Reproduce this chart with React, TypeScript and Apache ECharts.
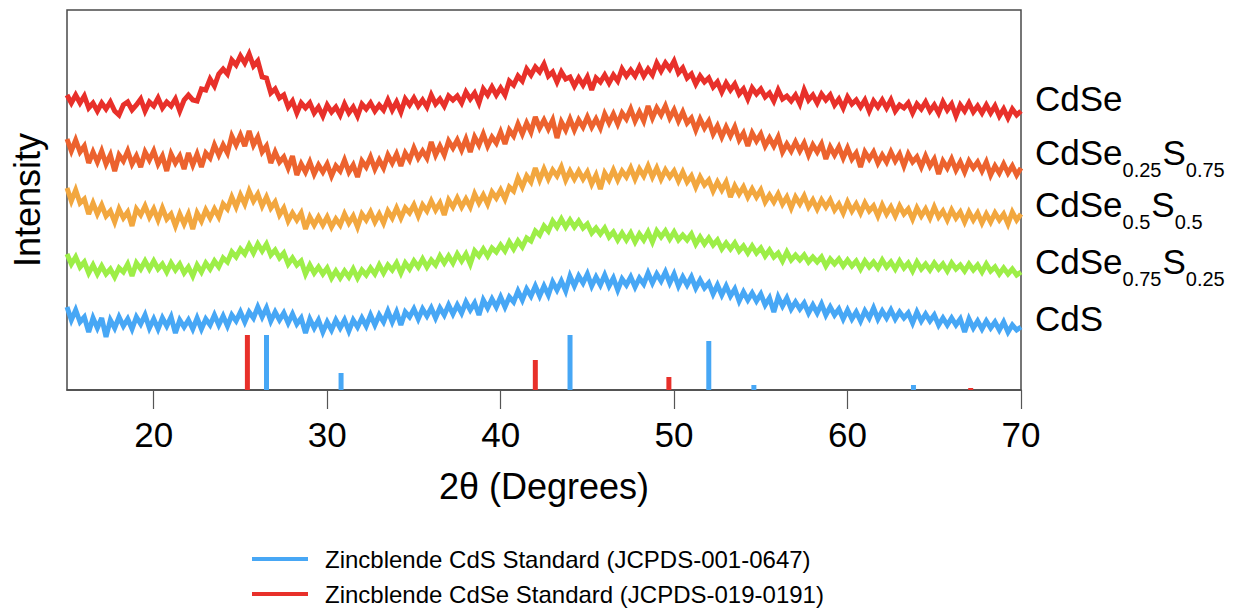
import React, { useEffect, useRef } from "react";
import * as echarts from "echarts";

// ---------- data ----------
const THETA_MIN = 15;
const THETA_MAX = 70;
const X_TICKS = [20, 30, 40, 50, 60, 70];

// XRD traces (offset intensity, arbitrary units), sampled every 0.25 deg from 15 to 70
const CDSE = [
  295,287,295,287,294,282,287,279,287,281,
  288,279,275,285,288,280,285,291,279,288,
  284,292,282,288,284,291,279,290,295,290,
  289,301,300,311,304,316,321,316,330,325,
  334,327,336,324,329,313,312,297,301,292,
  295,283,289,277,287,282,287,277,283,274,
  285,278,283,275,286,277,283,274,286,281,
  287,279,285,280,290,280,288,278,291,285,
  292,284,290,283,295,286,291,284,294,290,
  294,287,298,291,297,287,301,295,303,295,
  302,295,309,305,314,309,321,315,323,318,
  326,314,318,308,318,311,313,304,312,305,
  313,300,312,308,315,307,315,309,321,314,
  320,314,323,314,321,315,327,319,327,321,
  329,317,322,312,316,306,314,308,312,303,
  308,298,307,300,306,296,301,291,302,296,
  301,293,297,289,300,291,294,289,295,286,
  300,290,295,287,296,290,295,285,291,282,
  293,286,290,283,290,279,289,283,290,282,
  290,279,285,282,287,277,286,281,288,279,
  285,277,288,280,286,274,285,279,287,278,
  284,277,285,277,284,274,281,272,281,275,
  279,
];

const CDSE25_S75 = [
  251,239,250,238,244,227,238,228,239,226,
  235,219,235,229,239,226,234,223,238,230,
  239,226,234,219,236,227,234,221,237,225,
  236,223,237,232,245,235,245,237,254,245,
  255,244,259,245,253,238,244,227,238,228,
  233,222,234,215,226,218,228,216,225,218,
  226,214,224,219,230,218,225,213,229,223,
  233,221,230,222,235,227,236,224,237,230,
  242,232,239,232,248,235,244,235,249,242,
  250,240,251,238,253,245,256,244,253,247,
  258,246,260,254,266,256,267,258,273,262,
  270,261,270,252,268,260,271,260,270,263,
  273,263,271,262,276,267,276,266,277,271,
  281,269,278,269,284,272,282,275,284,272,
  280,269,278,267,272,260,271,262,269,256,
  264,253,263,254,263,250,257,244,257,249,
  256,244,252,244,253,238,246,239,248,239,
  247,235,245,238,246,231,243,235,243,232,
  242,231,237,223,238,231,238,227,235,228,
  238,229,236,224,236,228,233,223,234,224,
  231,216,229,222,231,220,228,218,229,222,
  228,219,228,215,224,217,226,217,224,215,
  222,
];

const CDSE50_S50 = [
  202,189,200,187,191,176,187,176,185,174,
  179,168,181,172,178,164,181,175,184,173,
  181,170,182,171,176,164,176,166,176,161,
  177,169,180,172,181,173,186,181,193,183,
  195,186,199,189,196,184,193,182,188,175,
  182,169,177,170,177,161,173,165,173,165,
  173,163,171,165,176,167,174,163,176,170,
  178,168,176,167,179,172,182,172,182,177,
  185,174,185,179,189,180,187,175,190,183,
  192,183,191,183,196,187,195,186,198,192,
  200,191,203,199,212,203,214,208,222,210,
  221,211,220,214,223,210,219,211,219,211,
  218,206,215,201,217,210,220,210,219,213,
  222,211,221,214,224,213,222,211,220,213,
  219,209,218,208,214,203,213,205,210,199,
  208,200,208,193,204,196,203,193,201,193,
  200,188,195,188,196,186,193,182,193,186,
  194,183,190,181,190,183,190,180,186,177,
  188,179,186,177,187,179,184,174,185,176,
  183,174,184,176,181,171,182,174,181,172,
  183,173,179,170,180,172,178,168,178,170,
  177,167,176,168,177,170,176,166,178,170,
  176,
];

const CDSE75_S25 = [
  136,126,133,123,128,117,125,116,124,116,
  121,113,122,118,126,114,127,121,129,121,
  129,121,126,118,127,120,126,117,123,114,
  125,118,127,121,129,123,132,128,138,133,
  141,136,145,137,146,139,146,135,140,132,
  137,126,132,125,129,116,125,117,123,116,
  122,112,119,112,119,113,121,112,120,115,
  122,116,125,117,125,120,127,117,127,121,
  129,123,131,123,130,125,134,127,134,127,
  136,129,136,126,139,134,141,134,142,138,
  145,139,148,141,149,143,152,149,159,155,
  164,159,169,163,171,163,170,163,169,162,
  166,157,162,156,162,153,158,150,157,150,
  157,148,156,150,158,148,159,153,159,151,
  158,150,155,150,156,146,153,146,152,145,
  150,141,147,141,147,139,144,137,144,137,
  142,134,140,133,137,129,138,130,135,130,
  135,128,133,128,133,124,131,126,131,124,
  130,124,129,121,129,123,128,122,130,123,
  128,121,129,122,127,119,128,121,126,120,
  127,121,126,119,127,121,125,119,126,120,
  125,118,126,119,123,116,122,116,121,115,
  118,
];

const CDS = [
  83,70,80,68,73,58,72,62,72,53,
  70,62,73,64,71,61,73,66,75,62,
  71,61,72,64,73,57,70,63,70,61,
  72,61,71,65,75,65,74,64,75,69,
  78,68,78,72,83,73,82,69,78,70,
  77,67,76,66,72,57,71,62,70,58,
  68,60,70,62,70,59,70,63,72,64,
  75,65,75,68,79,68,78,65,78,73,
  81,71,81,74,82,72,82,75,85,76,
  85,77,88,80,87,75,90,82,91,83,
  93,83,93,88,99,90,101,94,104,94,
  104,95,108,100,109,99,114,104,114,107,
  116,104,113,105,115,104,112,100,111,105,
  113,103,112,106,117,107,116,109,118,107,
  116,104,113,105,113,102,110,102,107,96,
  105,95,104,94,101,89,98,90,97,89,
  96,85,92,78,93,84,92,81,88,81,
  87,77,85,77,86,75,83,75,81,71,
  80,71,78,69,79,72,82,71,79,72,
  80,71,78,72,77,67,78,69,76,69,
  75,65,72,65,72,65,71,58,71,62,
  69,61,69,62,68,60,68,58,65,60,
  63,
];

// Reference patterns (2theta, relative height)
const CDS_STD_POS = [26.5, 30.8, 44.0, 52.0, 54.6, 63.8];
const CDS_STD_H = [55, 17, 55, 49, 5, 5];
const CDSE_STD_POS = [25.4, 42.0, 49.7, 67.1];
const CDSE_STD_H = [55, 30, 13, 2];

// Series labels: [text, isSubscript]
const LABEL_PARTS: [string, boolean][][] = [
  [["CdSe", false]],
  [["CdSe", false], ["0.25", true], ["S", false], ["0.75", true]],
  [["CdSe", false], ["0.5", true], ["S", false], ["0.5", true]],
  [["CdSe", false], ["0.75", true], ["S", false], ["0.25", true]],
  [["CdS", false]],
];
const SERIES_NAMES = ["CdSe", "CdSe0.25S0.75", "CdSe0.5S0.5", "CdSe0.75S0.25", "CdS"];
const LEGEND_TEXTS = [
  "Zincblende CdS Standard (JCPDS-001-0647)",
  "Zincblende CdSe Standard (JCPDS-019-0191)",
];

// ---------- styles / layout ----------
const FONT = '"Liberation Sans", Arial, Helvetica, sans-serif';
const COLORS = ["#E8302A", "#EC622E", "#F2A73F", "#9DEE47", "#47A7F5"];
const STD_BLUE = "#47A7F5";
const STD_RED = "#E8302A";
const LABEL_Y = [98, 152.5, 204, 261, 318.5];
const LABEL_X = 1035;

export default function App() {
  const ref = useRef<HTMLDivElement>(null);

  useEffect(() => {
    if (!ref.current) return;
    const chart = echarts.init(ref.current, undefined, { renderer: "svg" });

    const canvas = document.createElement("canvas");
    const ctx = canvas.getContext("2d")!;
    const measure = (t: string, size: number) => {
      ctx.font = `${size}px "Liberation Sans"`;
      return ctx.measureText(t).width;
    };

    const toXY = (arr: number[]) =>
      arr.map((v, i) => [THETA_MIN + (i * (THETA_MAX - THETA_MIN)) / (arr.length - 1), v]);

    const traces = [CDSE, CDSE25_S75, CDSE50_S50, CDSE75_S25, CDS];

    const lineSeries = traces.map((arr, k) => ({
      type: "line",
      name: SERIES_NAMES[k],
      data: toXY(arr),
      showSymbol: false,
      symbol: "none",
      silent: true,
      lineStyle: { color: COLORS[k], width: 5, join: "miter", miterLimit: 3 },
      z: 3,
    }));

    const stdSeries = (pos: number[], h: number[], color: string, name: string) => ({
      type: "custom",
      name,
      silent: true,
      data: pos.map((p, i) => [p, h[i]]),
      renderItem: (params: any, api: any) => {
        const x = api.value(0);
        const hv = api.value(1);
        const top = api.coord([x, hv]);
        const base = api.coord([x, 0]);
        return {
          type: "rect",
          shape: { x: top[0] - 2.5, y: top[1], width: 5, height: base[1] - top[1] },
          style: { fill: color },
        };
      },
      z: 2,
    });

    const graphics: any[] = [];
    LABEL_PARTS.forEach((parts, k) => {
      let x = LABEL_X;
      parts.forEach(([t, sub]) => {
        const size = sub ? 20 : 35;
        graphics.push({
          type: "text",
          x,
          y: LABEL_Y[k] + (sub ? 17.5 : 0),
          style: {
            text: t,
            fontSize: size,
            fontFamily: FONT,
            fill: "#000",
            align: "left",
            verticalAlign: "middle",
          },
        });
        x += measure(t, size) + (sub ? 1 : 0);
      });
    });

    const legendColors = [STD_BLUE, STD_RED];
    const legendY = [559, 594];
    LEGEND_TEXTS.forEach((t, i) => {
      graphics.push({
        type: "rect",
        shape: { x: 252, y: legendY[i] - 2, width: 56, height: 4 },
        style: { fill: legendColors[i] },
      });
      graphics.push({
        type: "text",
        x: 325,
        y: legendY[i],
        style: {
          text: t,
          fontSize: 24,
          fontFamily: FONT,
          fill: "#000",
          align: "left",
          verticalAlign: "middle",
        },
      });
    });

    chart.setOption({
      animation: false,
      backgroundColor: "#fff",
      grid: {
        left: 67,
        right: 223,
        top: 10,
        bottom: 219,
        show: true,
        borderColor: "#4a4a4a",
        borderWidth: 1.5,
        backgroundColor: "transparent",
        outerBoundsMode: "none",
      },
      xAxis: {
        type: "value",
        min: THETA_MIN,
        max: THETA_MAX,
        name: "2θ (Degrees)",
        nameLocation: "middle",
        nameGap: 78,
        nameTextStyle: { fontSize: 36, fontFamily: FONT, color: "#000" },
        axisLine: { show: true, lineStyle: { color: "#4a4a4a", width: 1.5 } },
        axisTick: {
          show: true,
          length: 19,
          inside: false,
          customValues: X_TICKS,
          lineStyle: { color: "#555", width: 1.2 },
        },
        axisLabel: {
          show: true,
          customValues: X_TICKS,
          fontSize: 35,
          fontFamily: FONT,
          color: "#000",
          margin: 27,
        },
        splitLine: { show: false },
      },
      yAxis: {
        type: "value",
        min: 0,
        max: 380,
        name: "Intensity",
        nameLocation: "middle",
        nameGap: 22,
        nameTextStyle: { fontSize: 36, fontFamily: FONT, color: "#000" },
        axisLine: { show: false },
        axisTick: { show: false },
        axisLabel: { show: false },
        splitLine: { show: false },
      },
      series: [
        ...lineSeries,
        stdSeries(CDS_STD_POS, CDS_STD_H, STD_BLUE, "Zincblende CdS Standard"),
        stdSeries(CDSE_STD_POS, CDSE_STD_H, STD_RED, "Zincblende CdSe Standard"),
      ],
      graphic: graphics,
    });

    return () => chart.dispose();
  }, []);

  return (
    <div
      ref={ref}
      style={{ position: "absolute", left: 0, top: 0, width: 1244, height: 609, background: "#fff" }}
    />
  );
}
